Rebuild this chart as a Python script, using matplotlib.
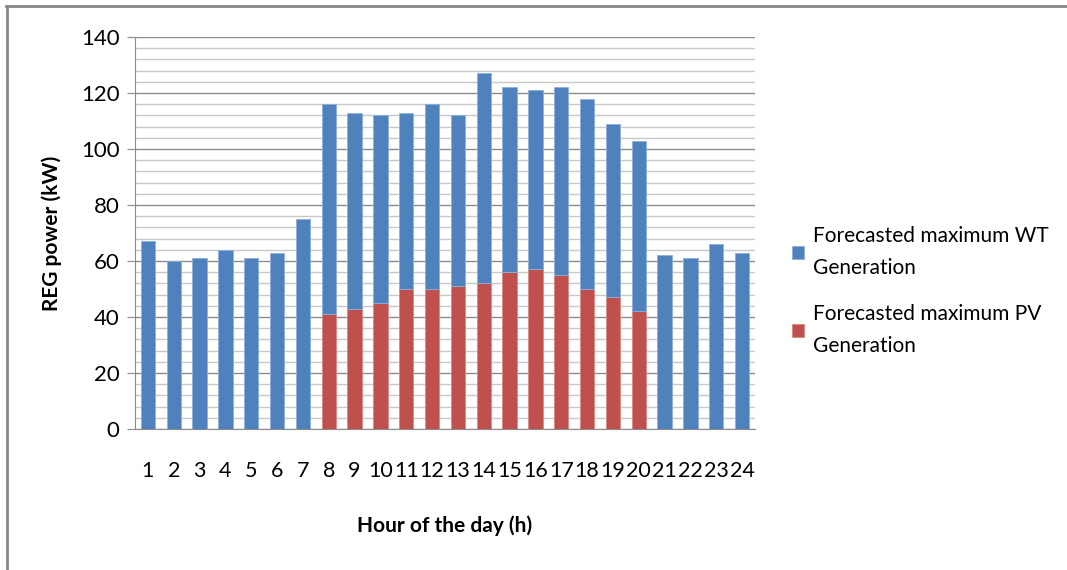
import matplotlib.pyplot as plt
from matplotlib.lines import Line2D
from matplotlib.ticker import MultipleLocator

# hourly forecast of maximum renewable generation (kW)
hours = list(range(1, 25))
pv_gen = [0, 0, 0, 0, 0, 0, 0, 41, 43, 45, 50, 50, 51, 52, 56, 57, 55, 50, 47, 42, 0, 0, 0, 0]
total_gen = [67, 60, 61, 64, 61, 63, 75, 116, 113, 112, 113, 116, 112, 127, 122, 121, 122, 118, 109, 103, 62, 61, 66, 63]
wt_gen = [t - p for t, p in zip(total_gen, pv_gen)]

blue = '#4F81BD'
red = '#C0504D'

plt.rcParams['font.family'] = ['Lato', 'DejaVu Sans']

fig = plt.figure(figsize=(10.67, 5.70), dpi=100)
ax = fig.add_axes([135 / 1067, 1 - 429 / 570, 620 / 1067, 392 / 570])

ax.bar(hours, pv_gen, width=0.56, color=red, edgecolor='#d98a88', linewidth=0.6, zorder=3,
       label='Forecasted maximum PV\nGeneration')
ax.bar(hours, wt_gen, bottom=pv_gen, width=0.56, color=blue, edgecolor='#8fb0d9', linewidth=0.6, zorder=3,
       label='Forecasted maximum WT\nGeneration')

ax.set_xlim(0.5, 24.5)
ax.set_ylim(0, 140)
ax.yaxis.set_major_locator(MultipleLocator(20))
ax.yaxis.set_minor_locator(MultipleLocator(4))
ax.grid(axis='y', which='major', color='#8c8c8c', linewidth=1.0, zorder=0)
ax.grid(axis='y', which='minor', color='#c8c8c8', linewidth=1.0, zorder=0)

ax.set_xticks(hours)
ax.tick_params(axis='x', length=0, pad=23, labelsize=15.5)
ax.tick_params(axis='y', which='major', length=6, color='#8c8c8c', labelsize=16, pad=5)
ax.tick_params(axis='y', which='minor', length=0)

for s in ['top', 'right']:
    ax.spines[s].set_visible(False)
ax.spines['left'].set_color('#8c8c8c')
ax.spines['bottom'].set_color('#8c8c8c')

ax.set_ylabel('REG power (kW)', fontsize=15, fontweight='bold', labelpad=14)
ax.set_xlabel('Hour of the day (h)', fontsize=15, fontweight='bold', labelpad=25)

handles, labels = ax.get_legend_handles_labels()
leg = ax.legend(handles[::-1], labels[::-1], loc='center left', bbox_to_anchor=(1.03, 0.352),
                frameon=False, fontsize=15, handlelength=0.55, handleheight=0.55,
                handletextpad=0.45, labelspacing=1.25)
for t in leg.get_texts():
    t.set_linespacing(1.75)

# outer chart border, only top and left edges visible
fig.add_artist(Line2D([6 / 1067, 1], [1 - 6 / 570, 1 - 6 / 570], transform=fig.transFigure, color='#888888', linewidth=2))
fig.add_artist(Line2D([7 / 1067, 7 / 1067], [0, 1 - 6 / 570], transform=fig.transFigure, color='#888888', linewidth=2))

fig.savefig('out.png', dpi=100)
